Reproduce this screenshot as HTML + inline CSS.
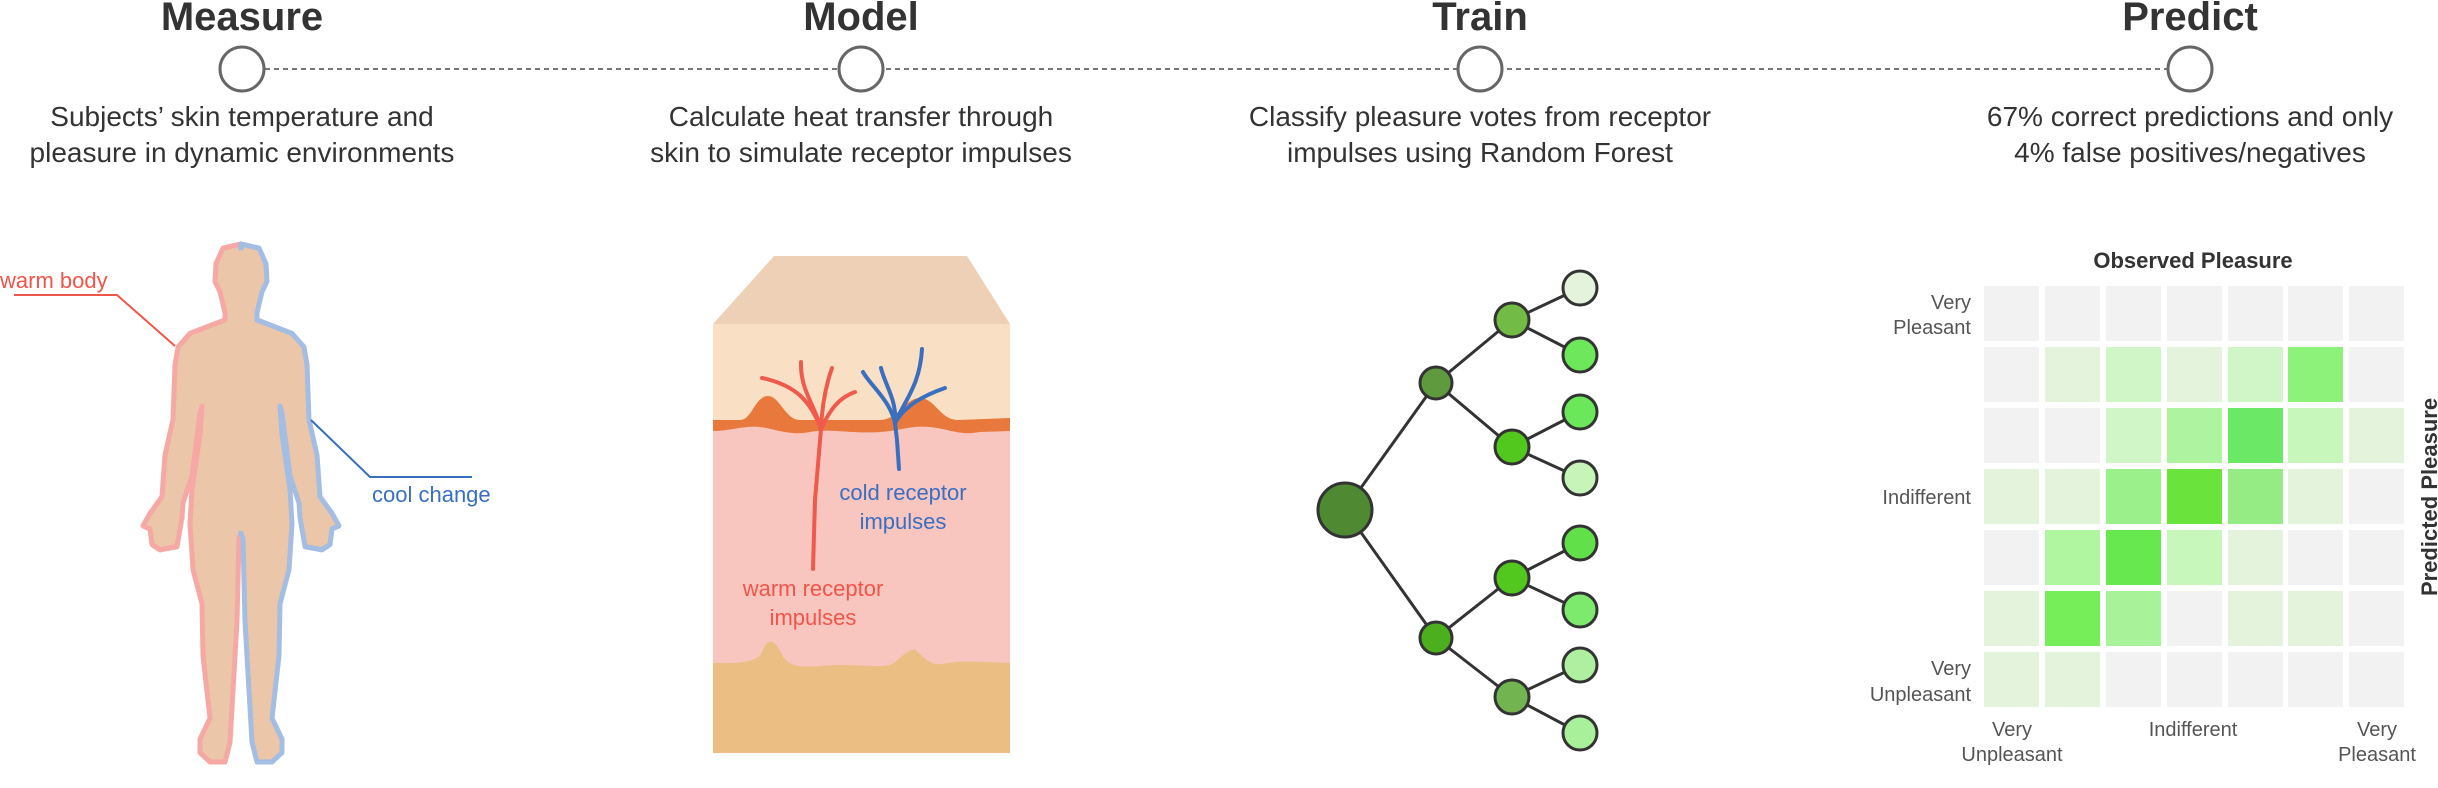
<!DOCTYPE html>
<html><head><meta charset="utf-8"><style>
html,body{margin:0;padding:0;background:#fff;}
svg{display:block;font-family:"Liberation Sans",Arial,sans-serif;}
</style></head><body>
<svg width="2438" height="788" viewBox="0 0 2438 788" xmlns="http://www.w3.org/2000/svg">
<line x1="265" y1="69" x2="2167" y2="69" stroke="#777" stroke-width="2" stroke-dasharray="5,4"/>
<g fill="#fff" stroke="#666" stroke-width="3">
<circle cx="242" cy="69" r="22"/><circle cx="861" cy="69" r="22"/><circle cx="1480" cy="69" r="22"/><circle cx="2190" cy="69" r="22"/>
</g>
<g font-weight="bold" font-size="40" fill="#333" text-anchor="middle">
<text x="242" y="30">Measure</text><text x="861" y="30">Model</text><text x="1480" y="30">Train</text><text x="2190" y="30">Predict</text>
</g>
<g font-size="28" fill="#333" text-anchor="middle">
<text x="242" y="126">Subjects’ skin temperature and</text><text x="242" y="162">pleasure in dynamic environments</text>
<text x="861" y="126">Calculate heat transfer through</text><text x="861" y="162">skin to simulate receptor impulses</text>
<text x="1480" y="126">Classify pleasure votes from receptor</text><text x="1480" y="162">impulses using Random Forest</text>
<text x="2190" y="126">67% correct predictions and only</text><text x="2190" y="162">4% false positives/negatives</text>
</g>
<!-- body -->
<defs>
<polygon id="bh" points="241,244 223,248 216,263 215,280 220,290 225,310 225,317 190,330 178,343 175,360 173,413 165,447 162,487 150,503 143,515 150,518 152,533 160,538 177,535 182,507 183,493 192,467 200,407 202,400 200,427 192,480 190,513 193,557 202,590 203,640 210,700 200,720 200,733 210,742 225,742 230,723 233,673 237,607 239,527 241,523"/>
</defs>
<g transform="translate(0,244) scale(1,1.04) translate(0,-244)">
<use href="#bh" fill="#ecc6a8" stroke="#f6a8a4" stroke-width="5" stroke-linejoin="round"/>
<use href="#bh" fill="#ecc6a8" stroke="#a3bde3" stroke-width="5" stroke-linejoin="round" transform="translate(482,0) scale(-1,1)"/>
<rect x="236" y="250" width="10" height="270" fill="#ecc6a8"/>
<polygon points="232,300 250,300 250,330 232,330" fill="#ecc6a8"/>
</g>
<polyline fill="none" stroke="#f0554a" stroke-width="2" points="14,295 117,295 175,346"/>
<text x="0" y="288" font-size="22" fill="#f0554a">warm body</text>
<polyline fill="none" stroke="#3a6fc0" stroke-width="2" points="311,420 370,477 472,477"/>
<text x="372" y="502" font-size="22" fill="#3a6fc0">cool change</text>
<!-- skin -->
<polygon points="774,256 967,256 1010,324 713,324" fill="#eed0b6"/>
<rect x="713" y="324" width="297" height="429" fill="#f9e0c5"/>
<path d="M713,420 L740,420 C752,420 755,396 768,396 C780,396 785,420 800,420 L880,420 C898,420 905,398 920,398 C935,398 940,420 958,420 L1010,418 L1010,753 L713,753 Z" fill="#e8783c"/>
<path d="M713,431 C730,431 745,425 760,427 C775,429 790,436 810,432 C830,428 850,434 880,432 C900,431 910,425 930,427 C950,429 960,436 980,432 L1010,431 L1010,753 L713,753 Z" fill="#f8c5bf"/>
<path d="M713,663 C725,663 758,665 762,652 C768,636 775,640 782,655 C788,666 800,668 820,666 C850,663 875,668 890,665 C898,662 910,646 916,650 C922,656 930,666 942,664 C960,660 985,662 1010,663 L1010,753 L713,753 Z" fill="#ebbf83"/>
<g fill="none" stroke="#f05a4c" stroke-width="4" stroke-linecap="round">
<path d="M813,569 L815,500 L821,429"/>
<path d="M821,429 C810,400 795,385 762,378"/>
<path d="M821,429 C815,405 800,390 801,362"/>
<path d="M821,429 C822,405 826,385 832,368"/>
<path d="M821,429 C830,410 838,398 855,392"/>
</g>
<g fill="none" stroke="#3a6fc0" stroke-width="4" stroke-linecap="round">
<path d="M899,469 L897,440 L895,423"/>
<path d="M895,423 C890,400 870,385 863,372"/>
<path d="M895,423 C897,400 885,385 881,368"/>
<path d="M895,423 C905,400 920,385 922,349"/>
<path d="M895,423 C905,405 925,395 945,388"/>
</g>
<g font-size="22" text-anchor="middle">
<text x="903" y="500" fill="#3a6fc0">cold receptor</text><text x="903" y="529" fill="#3a6fc0">impulses</text>
<text x="813" y="596" fill="#f0554a">warm receptor</text><text x="813" y="625" fill="#f0554a">impulses</text>
</g>
<!-- tree -->
<g stroke="#333" stroke-width="3">
<line x1="1345" y1="510" x2="1436" y2="383"/><line x1="1345" y1="510" x2="1436" y2="638"/>
<line x1="1436" y1="383" x2="1512" y2="320"/><line x1="1436" y1="383" x2="1512" y2="447"/>
<line x1="1436" y1="638" x2="1512" y2="578"/><line x1="1436" y1="638" x2="1512" y2="697"/>
<line x1="1512" y1="320" x2="1580" y2="288"/><line x1="1512" y1="320" x2="1580" y2="355"/>
<line x1="1512" y1="447" x2="1580" y2="412"/><line x1="1512" y1="447" x2="1580" y2="478"/>
<line x1="1512" y1="578" x2="1580" y2="543"/><line x1="1512" y1="578" x2="1580" y2="610"/>
<line x1="1512" y1="697" x2="1580" y2="665"/><line x1="1512" y1="697" x2="1580" y2="733"/>
<circle cx="1345" cy="510" r="27" fill="#4f8a32"/>
<circle cx="1436" cy="383" r="16" fill="#5f9a3f"/><circle cx="1436" cy="638" r="16" fill="#4caf1e"/>
<circle cx="1512" cy="320" r="17" fill="#72bb45"/><circle cx="1512" cy="447" r="17" fill="#52c81e"/>
<circle cx="1512" cy="578" r="17" fill="#52c81e"/><circle cx="1512" cy="697" r="17" fill="#72b550"/>
<circle cx="1580" cy="288" r="17" fill="#e4f3dc"/><circle cx="1580" cy="355" r="17" fill="#6de85a"/>
<circle cx="1580" cy="412" r="17" fill="#6ae85a"/><circle cx="1580" cy="478" r="17" fill="#c6f4b9"/>
<circle cx="1580" cy="543" r="17" fill="#62e04a"/><circle cx="1580" cy="610" r="17" fill="#7eea6d"/>
<circle cx="1580" cy="665" r="17" fill="#aef0a0"/><circle cx="1580" cy="733" r="17" fill="#a8f09a"/>
</g>
<!-- heatmap -->
<text x="2193" y="268" font-size="22" font-weight="bold" fill="#333" text-anchor="middle">Observed Pleasure</text>
<g>
<rect x="1984" y="286" width="55" height="55" fill="#f2f2f2"/><rect x="2045" y="286" width="55" height="55" fill="#f2f2f2"/><rect x="2106" y="286" width="55" height="55" fill="#f2f2f2"/><rect x="2167" y="286" width="55" height="55" fill="#f2f2f2"/><rect x="2228" y="286" width="55" height="55" fill="#f2f2f2"/><rect x="2288" y="286" width="55" height="55" fill="#f2f2f2"/><rect x="2349" y="286" width="55" height="55" fill="#f2f2f2"/>
<rect x="1984" y="347" width="55" height="55" fill="#f2f2f2"/><rect x="2045" y="347" width="55" height="55" fill="#e4f3dc"/><rect x="2106" y="347" width="55" height="55" fill="#d0f5c6"/><rect x="2167" y="347" width="55" height="55" fill="#e4f3dc"/><rect x="2228" y="347" width="55" height="55" fill="#d0f5c6"/><rect x="2288" y="347" width="55" height="55" fill="#8cf27a"/><rect x="2349" y="347" width="55" height="55" fill="#f2f2f2"/>
<rect x="1984" y="408" width="55" height="55" fill="#f2f2f2"/><rect x="2045" y="408" width="55" height="55" fill="#f2f2f2"/><rect x="2106" y="408" width="55" height="55" fill="#d0f5c6"/><rect x="2167" y="408" width="55" height="55" fill="#aef3a0"/><rect x="2228" y="408" width="55" height="55" fill="#6ae866"/><rect x="2288" y="408" width="55" height="55" fill="#c8f7bc"/><rect x="2349" y="408" width="55" height="55" fill="#e4f3dc"/>
<rect x="1984" y="469" width="55" height="55" fill="#e4f3dc"/><rect x="2045" y="469" width="55" height="55" fill="#e4f3dc"/><rect x="2106" y="469" width="55" height="55" fill="#9bf08c"/><rect x="2167" y="469" width="55" height="55" fill="#6ae43c"/><rect x="2228" y="469" width="55" height="55" fill="#96ec84"/><rect x="2288" y="469" width="55" height="55" fill="#e4f3dc"/><rect x="2349" y="469" width="55" height="55" fill="#f2f2f2"/>
<rect x="1984" y="530" width="55" height="55" fill="#f2f2f2"/><rect x="2045" y="530" width="55" height="55" fill="#b0f5a0"/><rect x="2106" y="530" width="55" height="55" fill="#66e84e"/><rect x="2167" y="530" width="55" height="55" fill="#c8f7bc"/><rect x="2228" y="530" width="55" height="55" fill="#e4f3dc"/><rect x="2288" y="530" width="55" height="55" fill="#f2f2f2"/><rect x="2349" y="530" width="55" height="55" fill="#f2f2f2"/>
<rect x="1984" y="591" width="55" height="55" fill="#e4f3dc"/><rect x="2045" y="591" width="55" height="55" fill="#76ee5a"/><rect x="2106" y="591" width="55" height="55" fill="#a8f29a"/><rect x="2167" y="591" width="55" height="55" fill="#f2f2f2"/><rect x="2228" y="591" width="55" height="55" fill="#e4f3dc"/><rect x="2288" y="591" width="55" height="55" fill="#e4f3dc"/><rect x="2349" y="591" width="55" height="55" fill="#f2f2f2"/>
<rect x="1984" y="652" width="55" height="55" fill="#e4f3dc"/><rect x="2045" y="652" width="55" height="55" fill="#e4f3dc"/><rect x="2106" y="652" width="55" height="55" fill="#f2f2f2"/><rect x="2167" y="652" width="55" height="55" fill="#f2f2f2"/><rect x="2228" y="652" width="55" height="55" fill="#f2f2f2"/><rect x="2288" y="652" width="55" height="55" fill="#f2f2f2"/><rect x="2349" y="652" width="55" height="55" fill="#f2f2f2"/>
</g>
<g font-size="20" fill="#555" text-anchor="end">
<text x="1971" y="309">Very</text><text x="1971" y="334">Pleasant</text>
<text x="1971" y="504">Indifferent</text>
<text x="1971" y="675">Very</text><text x="1971" y="701">Unpleasant</text>
</g>
<g font-size="20" fill="#555" text-anchor="middle">
<text x="2012" y="736">Very</text><text x="2012" y="761">Unpleasant</text>
<text x="2193" y="736">Indifferent</text>
<text x="2377" y="736">Very</text><text x="2377" y="761">Pleasant</text>
</g>
<text transform="translate(2437,497) rotate(-90)" font-size="22" font-weight="bold" fill="#333" text-anchor="middle">Predicted Pleasure</text>
</svg>
</body></html>
